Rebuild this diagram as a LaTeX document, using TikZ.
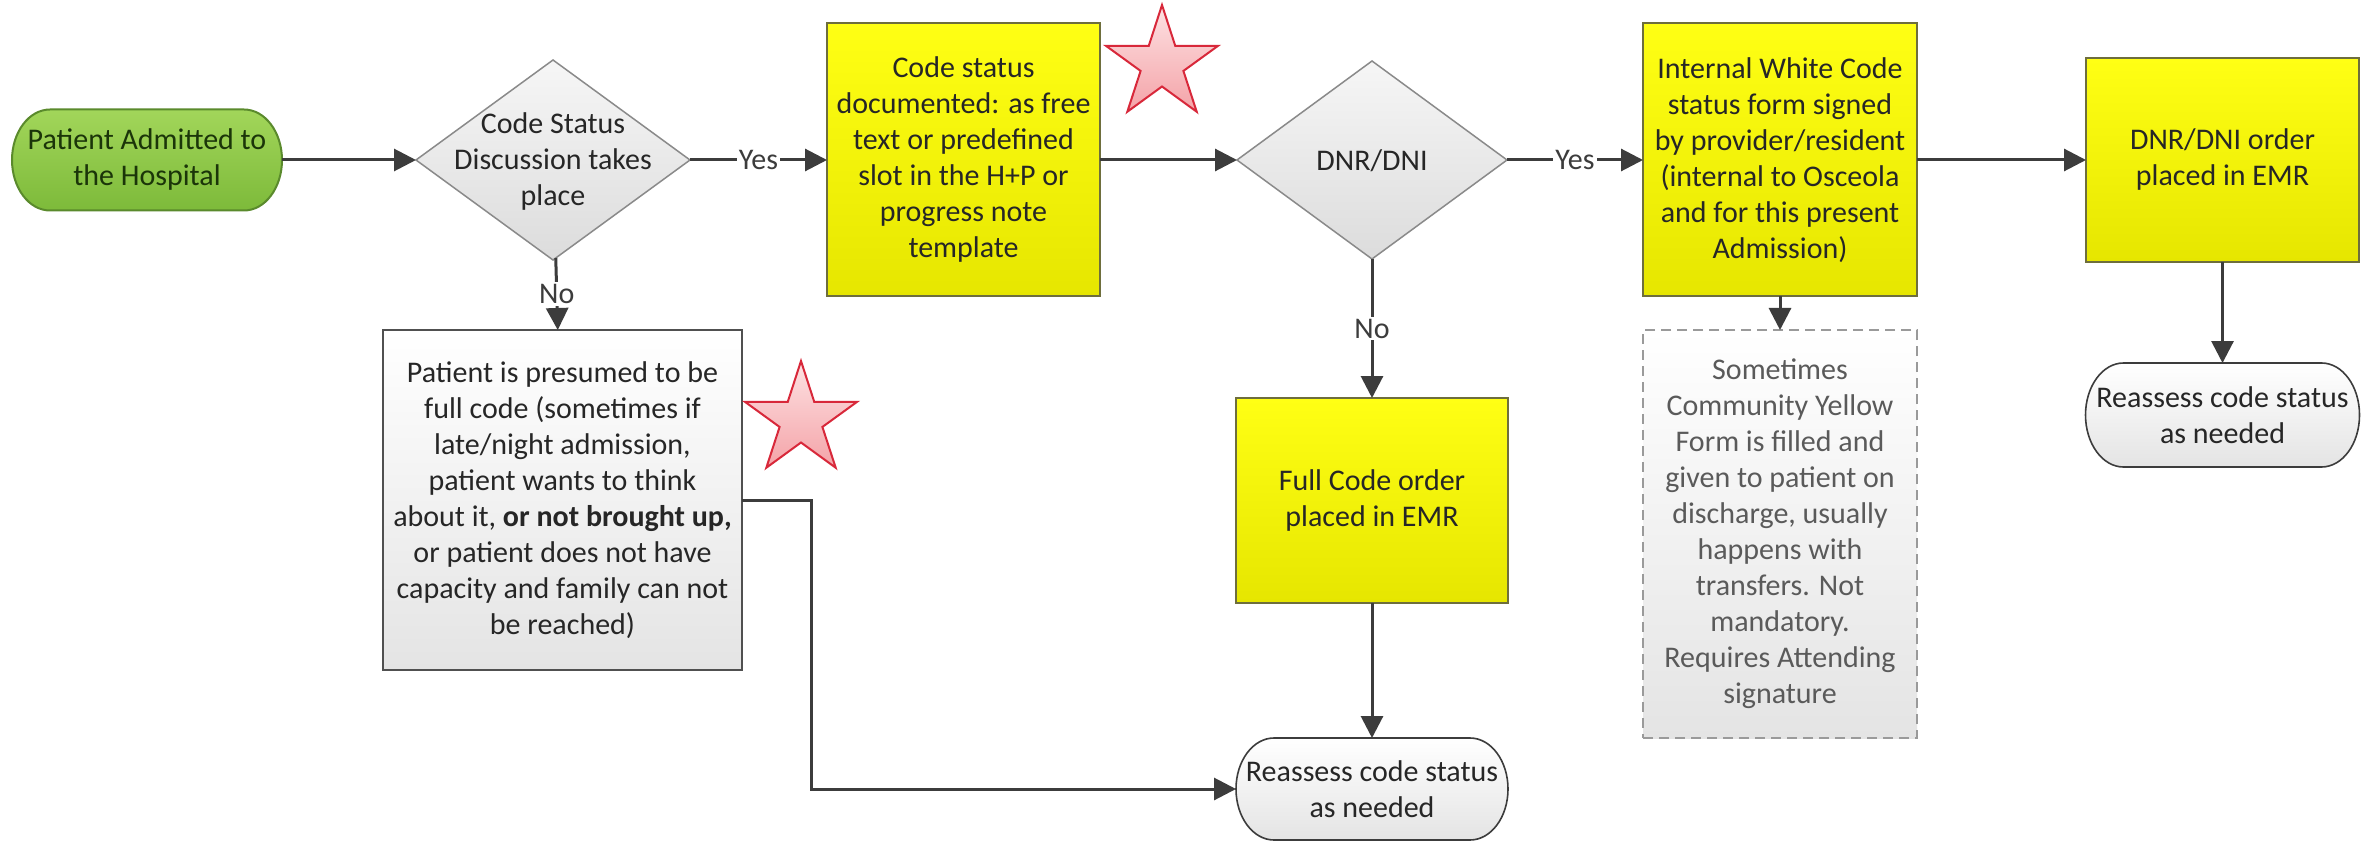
\documentclass[tikz,border=0pt]{standalone}
\usepackage{fontspec}
\setmainfont{Carlito}
\usetikzlibrary{arrows.meta,shapes.geometric}
\definecolor{txt}{HTML}{262626}
\definecolor{conn}{HTML}{3C3C3C}
\definecolor{ytop}{HTML}{FFFF14}
\definecolor{ybot}{HTML}{E6E600}
\definecolor{yborder}{HTML}{6E6E3C}
\definecolor{gtop}{HTML}{A2D65A}
\definecolor{gbot}{HTML}{7DBA3A}
\definecolor{gborder}{HTML}{5A8A2C}
\definecolor{gtext}{HTML}{1B3509}
\definecolor{ltop}{HTML}{FFFFFF}
\definecolor{lbot}{HTML}{E4E4E4}
\definecolor{dtop}{HTML}{F6F6F6}
\definecolor{dbot}{HTML}{DCDCDC}
\definecolor{dborder}{HTML}{8A8A8A}
\definecolor{dashborder}{HTML}{9A9A9A}
\definecolor{dashtext}{HTML}{5A5A5A}
\definecolor{startop}{HTML}{FDE2E3}
\definecolor{starbot}{HTML}{F4A3A8}
\definecolor{starborder}{HTML}{D8283A}
\newcommand{\termshape}[6]{%
  \path[#6] ({#1-#3+#5},{#2-#4}) -- ({#1+#3-#5},{#2-#4})
    .. controls ({#1+#3-#5+0.5523*#5},{#2-#4}) and ({#1+#3},{#2-0.5523*#4}) .. ({#1+#3},{#2})
    .. controls ({#1+#3},{#2+0.5523*#4}) and ({#1+#3-#5+0.5523*#5},{#2+#4}) .. ({#1+#3-#5},{#2+#4})
    -- ({#1-#3+#5},{#2+#4})
    .. controls ({#1-#3+#5-0.5523*#5},{#2+#4}) and ({#1-#3},{#2+0.5523*#4}) .. ({#1-#3},{#2})
    .. controls ({#1-#3},{#2-0.5523*#4}) and ({#1-#3+#5-0.5523*#5},{#2-#4}) .. ({#1-#3+#5},{#2-#4}) -- cycle;}
\newcommand{\starshape}[2]{%
  \begin{scope}[shift={(#1,#2)}]
    \path[starsty] (-90:59) -- (-54:22.5) -- (-18:59) -- (18:22.5) -- (54:59) -- (90:22.5)
      -- (126:59) -- (162:22.5) -- (198:59) -- (234:22.5) -- cycle;
  \end{scope}}
\begin{document}
\begin{tikzpicture}[x=1pt,y=-1pt,
  base/.style={font=\fontsize{30}{36}\selectfont, align=center, inner sep=0pt, outer sep=0pt, text=txt},
  ybox/.style={base, rectangle, draw=yborder, line width=2pt, top color=ytop, bottom color=ybot},
  gbox/.style={base, rectangle, draw=conn!90, line width=2.5pt, top color=ltop, bottom color=lbot},
  dashbox/.style={base, rectangle, draw=dashborder, line width=2pt, dash pattern=on 10pt off 6pt, top color=white, bottom color=lbot, text=dashtext},
  dia/.style={diamond, draw=dborder, line width=1.5pt, top color=dtop, bottom color=dbot, inner sep=0pt, outer sep=0pt},
  termbox/.style={base, rectangle, draw=none},
  termgrey/.style={draw=conn, line width=1.6pt, top color=white, bottom color=lbot},
  termgreen/.style={draw=gborder, line width=2pt, top color=gtop, bottom color=gbot},
  starsty/.style={draw=starborder, line width=2pt, top color=startop, bottom color=starbot},
  arr/.style={draw=conn, line width=3pt, -{Triangle[length=22pt,width=22pt]}},
  lbl/.style={font=\fontsize{30}{36}\selectfont, fill=white, inner sep=2pt, text=txt!90}
]
\fill[white] (0,0) rectangle (2369,842);
\useasboundingbox (0,0) rectangle (2369,842);

% start terminator
\termshape{147}{160}{135}{50.5}{38}{termgreen}
\node[termbox, text=gtext, minimum width=270pt, minimum height=101pt] (start) at (147,160) {Patient Admitted to\\the Hospital};

% decision 1
\node[dia, minimum width=274pt, minimum height=200pt] (d1) at (553,160) {};
\node[base] (d1t) at (553,162) {Code Status\\Discussion takes\\place};

% code status documented
\node[ybox, minimum width=273pt, minimum height=273pt] (b1) at (963.5,160) {Code status\\documented: as free\\text or predefined\\slot in the H+P or\\progress note\\template};

% decision 2
\node[dia, minimum width=270pt, minimum height=198pt] (d2) at (1372,160) {};
\node[base] (d2t) at (1372,161) {DNR/DNI};

% internal white code
\node[ybox, minimum width=274pt, minimum height=273pt] (b2) at (1780,160) {Internal White Code\\status form signed\\by provider/resident\\(internal to Osceola\\and for this present\\Admission)};

% DNR/DNI order
\node[ybox, minimum width=273pt, minimum height=204pt] (b3) at (2222.5,160) {DNR/DNI order\\placed in EMR};

% reassess right
\termshape{2222.5}{415}{137}{52}{38}{termgrey}
\node[termbox, minimum width=274pt, minimum height=104pt] (r3) at (2222.5,415) {Reassess code status\\as needed};

% dashed note
\node[dashbox, minimum width=274pt, minimum height=408pt] (dsh) at (1780,534) {Sometimes\\Community Yellow\\Form is filled and\\given to patient on\\discharge, usually\\happens with\\transfers. Not\\mandatory.\\Requires Attending\\signature};

% full code order
\node[ybox, minimum width=272pt, minimum height=205pt] (full) at (1372,500.5) {Full Code order\\placed in EMR};

% reassess bottom
\termshape{1372}{789}{136}{51}{38}{termgrey}
\node[termbox, minimum width=272pt, minimum height=102pt] (r2) at (1372,789) {Reassess code status\\as needed};

% presumed full code
\node[gbox, minimum width=359pt, minimum height=340pt] (bl) at (562.5,500) {Patient is presumed to be\\full code (sometimes if\\late/night admission,\\patient wants to think\\about it, \textbf{or not brought up,}\\or patient does not have\\capacity and family can not\\be reached)};

% stars
\starshape{1162}{64}
\starshape{801}{420}

% connectors
\coordinate (k1) at (811,789);
\draw[arr] (start) -- (d1);
\draw[arr] (d1) -- node[lbl] (y1) {Yes} (b1);
\draw[arr] (d1) -- node[lbl] (n1) {No} (bl);
\draw[arr] (b1) -- (d2);
\draw[arr] (d2) -- node[lbl] (y2) {Yes} (b2);
\draw[arr] (d2) -- node[lbl] (n2) {No} (full);
\draw[arr] (b2) -- (b3);
\draw[arr] (b3) -- (r3);
\draw[arr] (b2) -- (dsh);
\draw[arr] (full) -- (r2);
\draw[arr] (bl.east) -| (k1) -- (r2.west);
\end{tikzpicture}
\end{document}
